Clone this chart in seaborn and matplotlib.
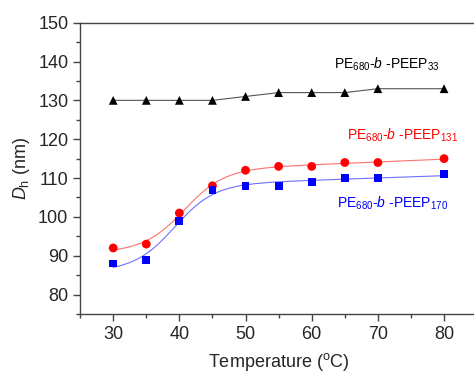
import numpy as np
import pandas as pd
import matplotlib
matplotlib.use("Agg")
import matplotlib.pyplot as plt
import seaborn as sns

# values
temperature = [30, 35, 40, 45, 50, 55, 60, 65, 70, 80]
dh_peep33 = [130, 130, 130, 130, 131, 132, 132, 132, 133, 133]
dh_peep131 = [92, 93, 101, 108, 112, 113, 113, 114, 114, 115]
dh_peep170 = [88, 89, 99, 107, 108, 108, 109, 110, 110, 111]


def sigmoid_fit(x, y):
    # Boltzmann sigmoid with linear baseline: grid search on x0/dx,
    # linear least squares for the rest
    x = np.asarray(x, float)
    y = np.asarray(y, float)
    best = None
    for x0 in np.arange(35, 50, 0.1):
        for dx in np.arange(3, 10, 0.1):
            s = 1 / (1 + np.exp((x - x0) / dx))
            A = np.column_stack([s, np.ones_like(x), x - 30])
            coef = np.linalg.lstsq(A, y, rcond=None)[0]
            err = np.sum((A @ coef - y) ** 2)
            if best is None or err < best[0]:
                best = (err, x0, dx, coef)
    _, x0, dx, (a, c, k) = best
    xs = np.linspace(x.min(), x.max(), 200)
    return xs, a / (1 + np.exp((xs - x0) / dx)) + c + k * (xs - 30)


sns.set_style("ticks")
plt.rcParams['font.family'] = ['Liberation Sans', 'DejaVu Sans']
plt.rcParams['mathtext.fontset'] = 'custom'
plt.rcParams['mathtext.rm'] = 'Liberation Sans'
plt.rcParams['mathtext.it'] = 'Liberation Sans:italic'
plt.rcParams['xtick.direction'] = 'out'
plt.rcParams['ytick.direction'] = 'out'

df = pd.DataFrame({'T': temperature, 'p33': dh_peep33,
                   'p131': dh_peep131, 'p170': dh_peep170})

fig = plt.figure(figsize=(4.74, 3.74), dpi=100)
ax = fig.add_axes([0.169, 0.1604, 0.8376, 0.779])

# fitted curves
xr, yr = sigmoid_fit(temperature, dh_peep131)
xb, yb = sigmoid_fit(temperature, dh_peep170)
sns.lineplot(x=xr, y=yr, color='#ff7070', lw=0.8, ax=ax)
sns.lineplot(x=xb, y=yb, color='#7070ff', lw=0.8, ax=ax)
sns.lineplot(data=df, x='T', y='p33', color='#555555', lw=0.8, ax=ax)

sns.scatterplot(data=df, x='T', y='p33', marker='^', color='black', s=40,
                edgecolor='none', ax=ax, zorder=5)
sns.scatterplot(data=df, x='T', y='p131', marker='o', color='red', s=40,
                edgecolor='none', ax=ax, zorder=5)
sns.scatterplot(data=df, x='T', y='p170', marker='s', color='blue', s=32,
                edgecolor='none', ax=ax, zorder=5)

ax.set_xlim(25, 85)
ax.set_ylim(75, 150)
ax.set_xticks([30, 40, 50, 60, 70, 80])
ax.set_xticks(np.arange(25, 86, 5), minor=True)
ax.set_yticks([80, 90, 100, 110, 120, 130, 140, 150])
ax.set_yticks(np.arange(75, 151, 5), minor=True)
ax.tick_params(which='major', length=5, width=1, labelsize=13, color='#444444')
ax.tick_params(which='minor', length=3, width=1, color='#444444')
for s in ['left', 'bottom', 'top']:
    ax.spines[s].set_color('#444444')
    ax.spines[s].set_linewidth(1.0)
ax.spines['right'].set_visible(False)

ax.set_xlabel(r'Temperature ($^\mathrm{o}$C)', fontsize=13, labelpad=6)
ax.set_ylabel(r'$D_\mathrm{h}$ (nm)', fontsize=13, labelpad=4)

ax.text(63.4, 138.3, r'PE$_{680}$-$b$ -PEEP$_{33}$', fontsize=10, color='black')
ax.text(65.3, 120.0, r'PE$_{680}$-$b$ -PEEP$_{131}$', fontsize=10, color='red')
ax.text(63.8, 102.4, r'PE$_{680}$-$b$ -PEEP$_{170}$', fontsize=10, color='blue')

fig.savefig('out.png', dpi=100)
